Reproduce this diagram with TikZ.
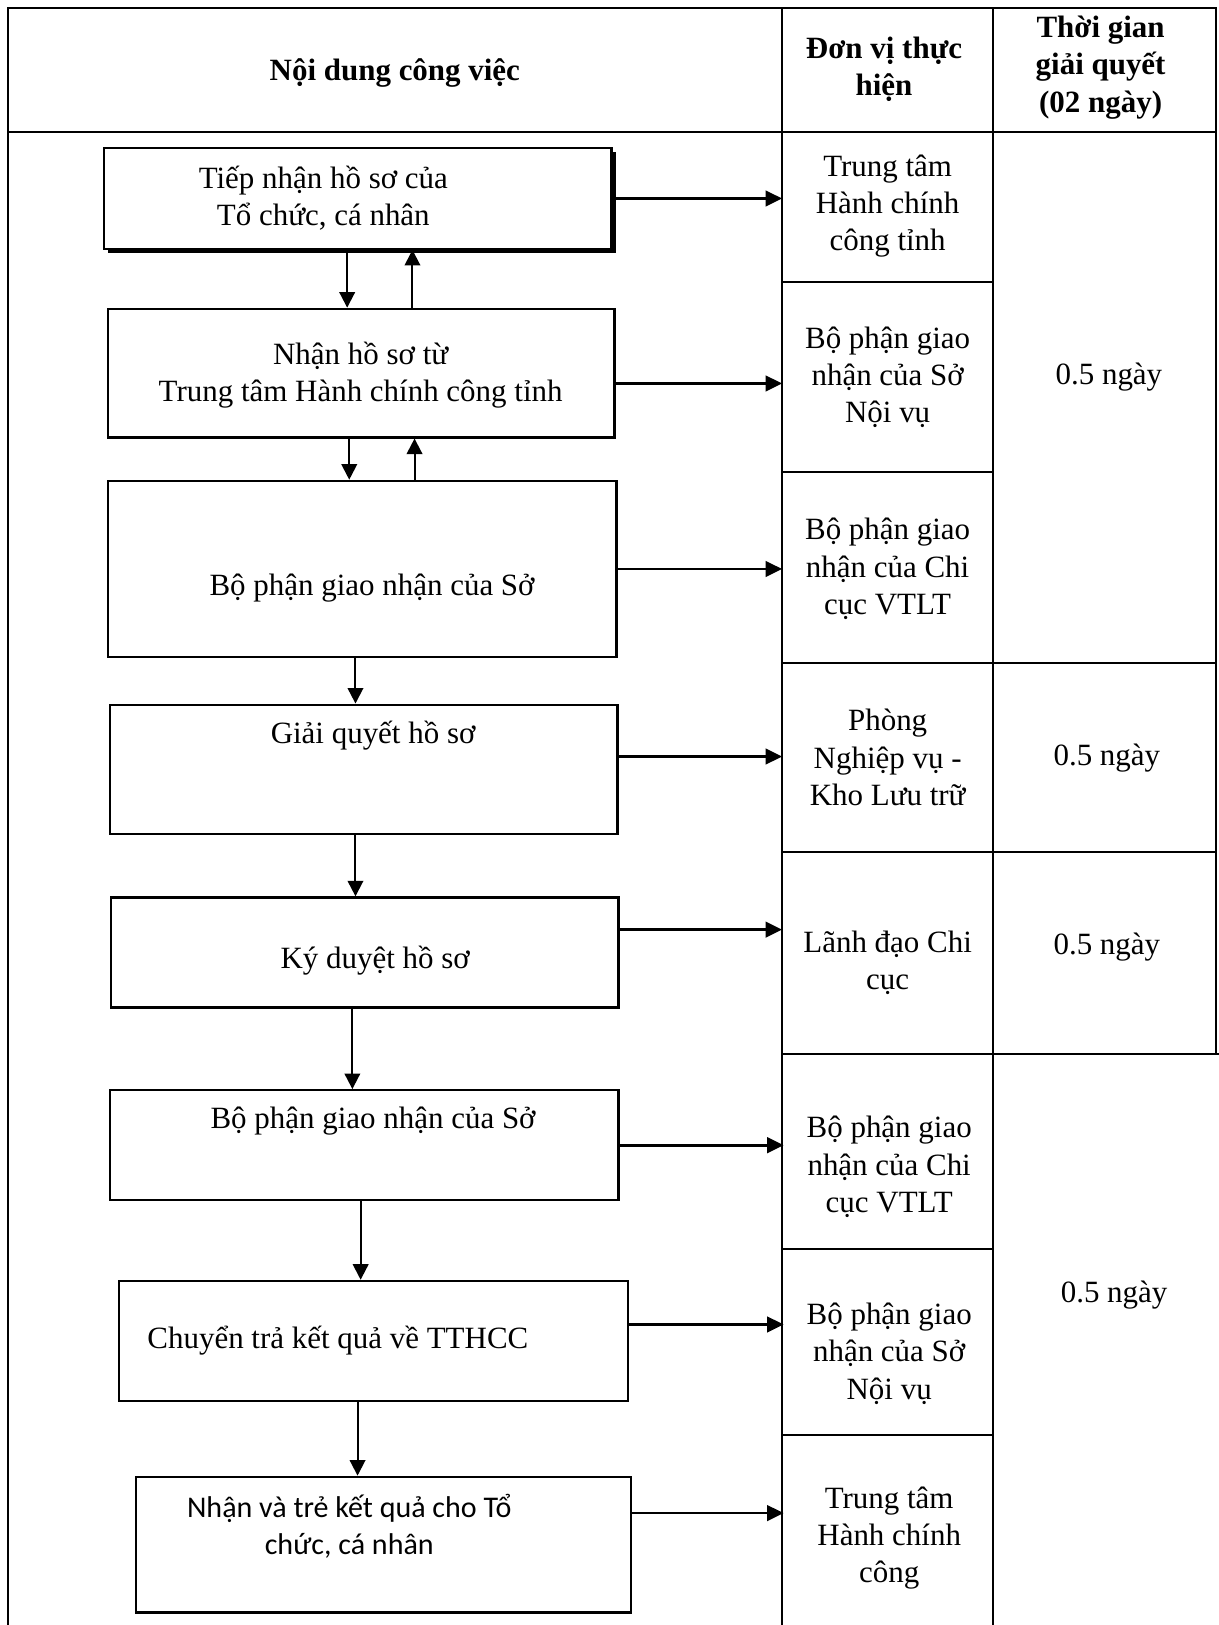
\documentclass[tikz,border=0pt]{standalone}
\usepackage{fontspec}
\setmainfont{Liberation Serif}
\newfontfamily\calibrifont{Carlito}
\usetikzlibrary{arrows.meta,shadows}
\newcommand{\bodysize}{\fontsize{17}{20.5}\selectfont}
\tikzset{stepbox/.style={draw,line width=1.3pt,fill=white,inner sep=0pt},
  steptext/.style={align=center,inner sep=0pt,font=\bodysize},
  unitcell/.style={align=center,inner sep=0pt,minimum width=4.06cm,font=\bodysize},
  timecell/.style={align=center,inner sep=0pt,font=\bodysize},
  headcell/.style={align=center,inner sep=0pt,font=\bfseries\bodysize},
  grid/.style={line width=1.1pt},
  edge/.style={-{Triangle[length=0.3cm,width=0.3cm]},line width=1.1pt},
  sideedge/.style={-{Triangle[length=0.32cm,width=0.3cm]},line width=1.5pt}}

\begin{document}
\begin{tikzpicture}[x=0.02cm,y=-0.02cm]
  \useasboundingbox[fill=white] (0,0) rectangle (1176,1568);
  % table
  \draw[grid] (8,1568) -- (8,8) -- (1173,8) -- (1173,1017);
  \draw[grid] (8,127) -- (1173,127);
  \draw[grid] (755,8) -- (755,1568);
  \draw[grid] (958,8) -- (958,1568);
  \foreach \y in {272,455,1205,1385} \draw[grid] (755,\y) -- (958,\y);
  \foreach \y in {640,822} \draw[grid] (755,\y) -- (1173,\y);
  \draw[grid] (755,1017) -- (1176,1017);

  \node[headcell] (hwork) at (381,70) {Nội dung công việc};
  \node[headcell] (hunit) at (853,67) {Đơn vị thực\\hiện};
  \node[headcell] (htime) at (1062,65) {Thời gian\\giải quyết\\(02 ngày)};

  % units
  \node[unitcell] (who1) at (856.5,199) {Trung tâm\\Hành chính\\công tỉnh};
  \node[unitcell] (who2) at (856.5,364) {Bộ phận giao\\nhận của Sở\\Nội vụ};
  \node[unitcell] (who3) at (856.5,549) {Bộ phận giao\\nhận của Chi\\cục VTLT};
  \node[unitcell] (who4) at (856.5,731) {Phòng\\Nghiệp vụ -\\Kho Lưu trữ};
  \node[unitcell] (who5) at (856.5,929) {Lãnh đạo Chi\\cục};
  \node[unitcell] (who6) at (858,1126) {Bộ phận giao\\nhận của Chi\\cục VTLT};
  \node[unitcell] (who7) at (858,1306) {Bộ phận giao\\nhận của Sở\\Nội vụ};
  \node[unitcell] (who8) at (858,1484) {Trung tâm\\Hành chính\\công};

  \node[timecell] (time1) at (1070,364) {0.5 ngày};
  \node[timecell] (time2) at (1068,731) {0.5 ngày};
  \node[timecell] (time3) at (1068,914) {0.5 ngày};
  \node[timecell] (time4) at (1075,1250) {0.5 ngày};

  % steps
  \node[stepbox,minimum width=9.8cm,minimum height=1.94cm,
    drop shadow={shadow xshift=0.08cm,shadow yshift=-0.08cm,fill=black,opacity=1}]
    (step1) at (345,191.5) {};
  \node[stepbox,minimum width=9.78cm,minimum height=2.48cm] (step2) at (348.5,360) {};
  \node[stepbox,minimum width=9.82cm,minimum height=3.4cm] (step3) at (349.5,549) {};
  \node[stepbox,minimum width=9.8cm,minimum height=2.5cm] (step4) at (351,742.5) {};
  \node[stepbox,minimum width=9.8cm,minimum height=2.12cm] (step5) at (352,919) {};
  \node[stepbox,minimum width=9.82cm,minimum height=2.12cm] (step6) at (351.5,1105) {};
  \node[stepbox,minimum width=9.82cm,minimum height=2.32cm] (step7) at (360.5,1294) {};
  \node[stepbox,minimum width=9.56cm,minimum height=2.62cm] (step8) at (370,1490.5) {};

  \node[steptext] (lab1) at (312,191) {Tiếp nhận hồ sơ của\\Tổ chức, cá nhân};
  \node[steptext] (lab2) at (348,362) {Nhận hồ sơ từ\\Trung tâm Hành chính công tỉnh};
  \node[steptext] (lab3) at (359,567) {Bộ phận giao nhận của Sở};
  \node[steptext] (lab4) at (360,710) {Giải quyết hồ sơ};
  \node[steptext] (lab5) at (362,927) {Ký duyệt hồ sơ};
  \node[steptext] (lab6) at (360,1082) {Bộ phận giao nhận của Sở};
  \node[steptext] (lab7) at (326,1294) {Chuyển trả kết quả về TTHCC};
  \node[steptext,font=\calibrifont\fontsize{16.5}{20.5}\selectfont] (lab8) at (337,1473)
    {Nhận và trẻ kết quả cho Tổ\\chức, cá nhân};

  % down / up arrows
  \coordinate (dn1) at ([xshift=-0.2cm]step1.south);
  \coordinate (up1) at ([xshift=1.06cm]step1.south);
  \draw[edge] (dn1) -- (dn1 |- step2.north);
  \draw[edge] (up1 |- step2.north) -- (up1);
  \coordinate (dn2) at ([xshift=-0.23cm]step2.south);
  \coordinate (up2) at ([xshift=1.03cm]step2.south);
  \draw[edge] (dn2) -- (dn2 |- step3.north);
  \draw[edge] (up2 |- step3.north) -- (up2);
  \coordinate (dn3) at ([xshift=-0.13cm]step3.south);
  \draw[edge] (dn3) -- (dn3 |- step4.north);
  \coordinate (dn4) at ([xshift=-0.16cm]step4.south);
  \draw[edge] (dn4) -- (dn4 |- step5.north);
  \coordinate (dn5) at ([xshift=-0.24cm]step5.south);
  \draw[edge] (dn5) -- (dn5 |- step6.north);
  \coordinate (dn6) at ([xshift=-0.07cm]step6.south);
  \draw[edge] (dn6) -- (dn6 |- step7.north);
  \coordinate (dn7) at ([xshift=-0.31cm]step7.south);
  \draw[edge] (dn7) -- (dn7 |- step8.north);

  % to units
  \coordinate (out1) at (step1.east);
  \coordinate (out2) at ([yshift=-0.2cm]step2.east);
  \coordinate (out3) at (step3.east);
  \coordinate (out4) at ([yshift=0.25cm]step4.east);
  \coordinate (out5) at ([yshift=0.44cm]step5.east);
  \coordinate (out6) at (step6.east);
  \coordinate (out7) at ([yshift=0.32cm]step7.east);
  \coordinate (out8) at ([yshift=0.61cm]step8.east);
  \foreach \i in {1,...,8} \draw[sideedge] (out\i) -- (out\i -| who\i.west);
\end{tikzpicture}
\end{document}
